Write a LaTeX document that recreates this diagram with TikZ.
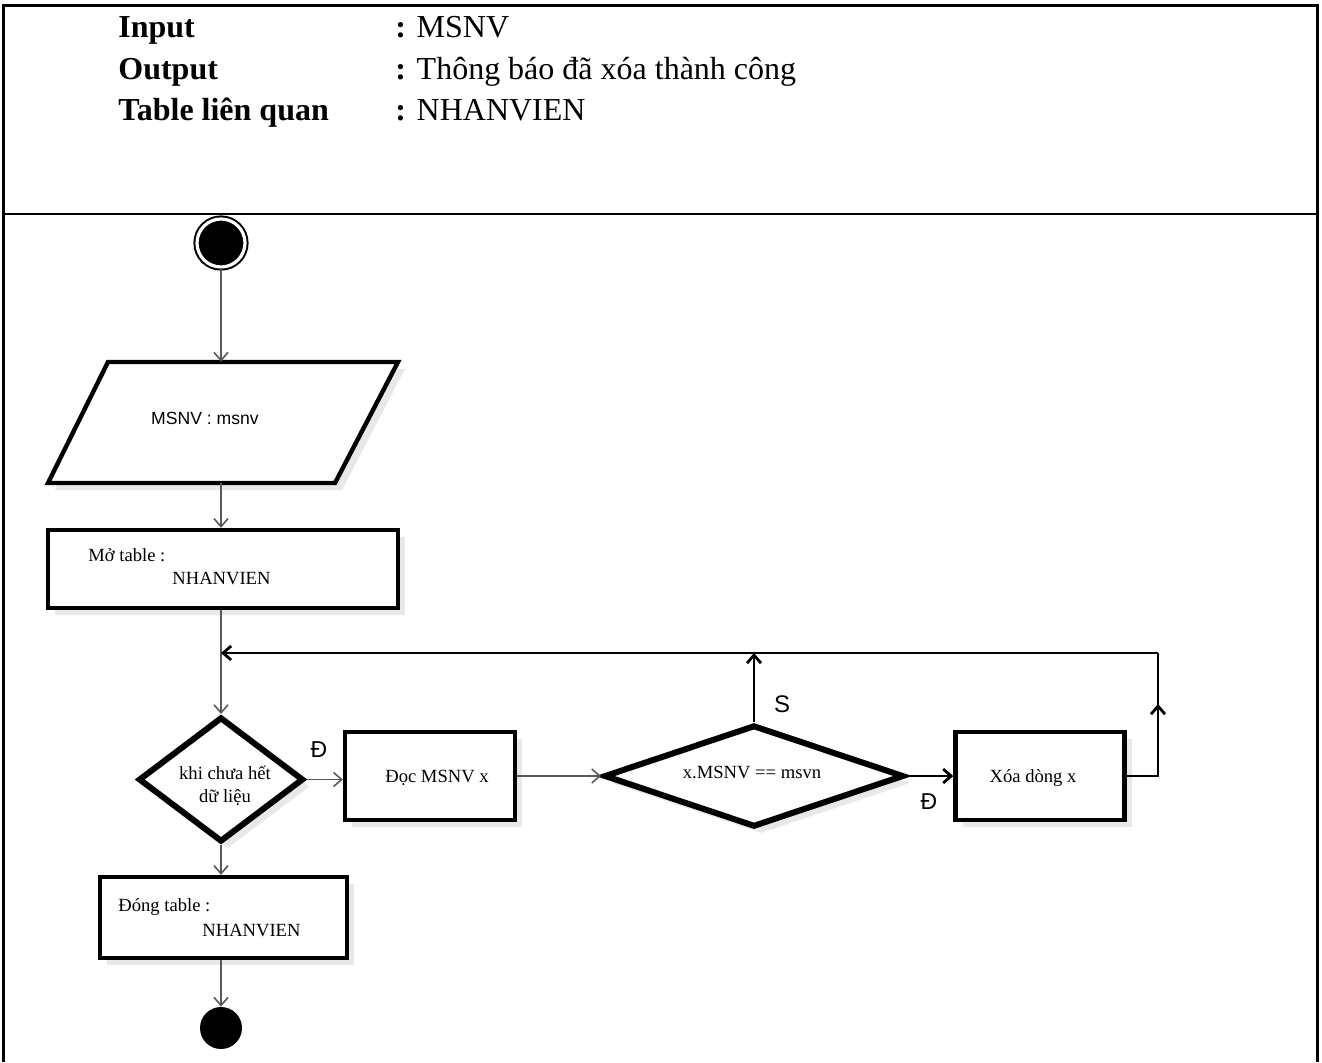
\documentclass[tikz,border=0pt]{standalone}
\usepackage{fontspec}
\setmainfont{Liberation Serif}
\setsansfont{Liberation Sans}
\usetikzlibrary{arrows.meta,shapes.geometric,shadows}
\begin{document}
\begin{tikzpicture}[x=0.5pt,y=-0.5pt,
  conn/.style={draw=black!65,line width=0.8pt},
  tip/.style={-{Straight Barb[length=4pt,width=7pt]}},
  loopline/.style={draw=black,line width=1.4pt},
  shade/.style={drop shadow={shadow xshift=3.5pt,shadow yshift=-3.5pt,fill=black!9,opacity=1}},
  box/.style={draw,rectangle,line width=2.2pt,fill=white,inner sep=0pt,shade},
  dia/.style={draw,diamond,line width=3pt,fill=white,inner sep=0pt,shade},
  txt/.style={font=\fontsize{9.3}{11}\selectfont,inner sep=0pt},
  stxt/.style={font=\sffamily\fontsize{8.8}{10}\selectfont,inner sep=0pt},
  lab/.style={font=\sffamily\fontsize{11.5}{13}\selectfont,inner sep=0pt},
  head/.style={font=\fontsize{16}{19}\selectfont,inner sep=0pt,anchor=base west}]
\useasboundingbox (0,0) rectangle (1322,1062);
\fill[white] (0,0) rectangle (1322,1062);
% frame
\draw[line width=1.5pt] (3,1062) -- (3,5) -- (1317,5) -- (1317,1062);
\draw[line width=1.4pt] (3,214) -- (1317,214);
% header
\node[head] (h1) at (118,37) {\textbf{Input}};
\node[head] (h2) at (118,79) {\textbf{Output}};
\node[head] (h3) at (118,120) {\textbf{Table liên quan}};
\node[head] (v1) at (395,37) {\textbf{:} MSNV};
\node[head] (v2) at (395,79) {\textbf{:} Thông báo đã xóa thành công};
\node[head] (v3) at (395,120) {\textbf{:} NHANVIEN};
% start
\node[circle,fill=black,draw=black,double=white,double distance=1.6pt,line width=1pt,minimum size=24pt,inner sep=0pt] (start) at (221,243) {};
% parallelogram
\node[minimum width=175pt,minimum height=60.5pt,inner sep=0pt] (par) at (223,422.5) {};
\draw[line width=2.2pt,fill=white,shade] (108,362) -- (398,362) -- (335,483) -- (48,483) -- cycle;
\node[stxt] (part) at (205,418) {MSNV : msnv};
% open table
\node[box,minimum width=175pt,minimum height=39pt] (mo) at (223,569) {};
\node[txt,anchor=west] (mot1) at (88,555) {Mở table :};
\node[txt,anchor=west] (mot2) at (172,578) {NHANVIEN};
% decision 1
\node[dia,minimum width=82.5pt,minimum height=62.5pt] (d1) at (221,779.5) {};
\node[txt,align=center,font=\fontsize{9.3}{11.5}\selectfont] (d1t) at (225,786) {khi chưa hết\\dữ liệu};
% read
\node[box,minimum width=85pt,minimum height=44pt] (doc) at (430,776) {};
\node[txt] (doct) at (437,778) {Đọc MSNV x};
% decision 2
\node[dia,minimum width=150pt,minimum height=51pt] (d2) at (754,776) {};
\node[txt] (d2t) at (752,772) {x.MSNV == msvn};
% delete
\node[box,minimum width=84.5pt,minimum height=44pt] (xoa) at (1040,776) {};
\node[txt] (xoat) at (1033,778) {Xóa dòng x};
% close table
\node[box,minimum width=123.5pt,minimum height=40.5pt] (dong) at (223.5,917.5) {};
\node[txt,anchor=west] (dot1) at (118,907) {Đóng table :};
\node[txt,anchor=west] (dot2) at (202,930) {NHANVIEN};
% end
\node[circle,fill=black,minimum size=21pt,inner sep=0pt] (stop) at (221,1028) {};
% labels
\node[lab] (l1) at (319,750) {Đ};
\node[lab,font=\sffamily\fontsize{12}{14}\selectfont] (l2) at (782,704) {S};
\node[lab] (l3) at (929,802) {Đ};
% coordinates
\coordinate (join) at (221,653);
\coordinate (rc) at (1158,653);
\coordinate (rup) at (1158,704);
% connectors
\draw[conn,tip] (start) -- (start |- par.north);
\draw[conn,tip] (start |- par.south) -- (start |- mo.north);
\draw[conn,tip] (start |- mo.south) -- (d1.north);
\draw[conn,tip] (d1.east) -- (d1.east -| doc.west);
\draw[conn,tip] (doc.east) -- (d2.west);
\draw[loopline,-{Straight Barb[length=4pt,width=7pt]}] (d2.east) -- (xoa.west);
\draw[loopline,tip] (d2.north) -- (d2.north |- join);
\draw[loopline] (xoa.east) -| (rc);
\draw[loopline,tip] (xoa.east -| rc) -- (rup);
\draw[loopline,tip] (rc) -- (join);
\draw[conn,tip] (d1.south) -- (d1.south |- dong.north);
\draw[conn,tip] (start |- dong.south) -- (stop);
\end{tikzpicture}
\end{document}
